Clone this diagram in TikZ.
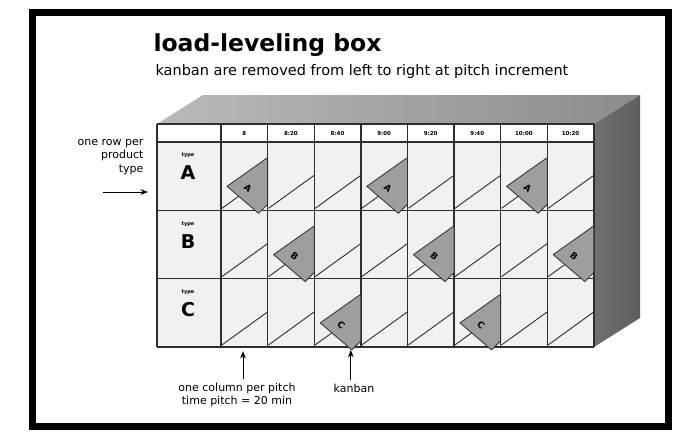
\documentclass[tikz,border=0pt]{standalone}
\usepackage{fontspec}
\setmainfont{DejaVu Sans}
\usetikzlibrary{arrows.meta,calc,positioning}
\definecolor{cardgray}{HTML}{9E9E9E}
\definecolor{cellgray}{HTML}{F1F1F1}
\definecolor{topgray}{HTML}{BABABA}
\definecolor{topdark}{HTML}{8C8C8C}
\definecolor{sidegray}{HTML}{707070}
\definecolor{sidedark}{HTML}{5E5E5E}
\definecolor{gridline}{HTML}{2E2E2E}

\tikzset{
  gridrule/.style={gridline,line width=1.4pt},
  slotline/.style={gridline,line width=0.9pt},
  kanban/.style={fill=cardgray,draw=gridline,line width=0.8pt,line join=round},
  cardlabel/.style={font=\bfseries\fontsize{9}{9}\selectfont,rotate=-40},
  timelabel/.style={font=\bfseries\fontsize{5.5}{6}\selectfont},
  typelabel/.style={font=\bfseries\fontsize{5}{5}\selectfont},
  rowletter/.style={font=\bfseries\fontsize{19}{19}\selectfont},
  note/.style={font=\fontsize{11}{13.5}\selectfont},
}

% card standing in slot: column, row, letter
\newcommand{\putkanban}[3]{%
  \pgfmathsetmacro{\xl}{221+46.6*#1}
  \pgfmathsetmacro{\xr}{\xl+46.6}
  \pgfmathsetmacro{\yb}{142+68.3*(#2+1)}
  \draw[kanban] (\xl+6,\yb-24) -- (\xr-1,\yb-52) -- (\xr,\yb-52) -- (\xr,\yb-6)
    -- (\xr-9,\yb+3) -- cycle;
  \node[cardlabel] (card-#1-#2) at (\xl+27,\yb-22) {#3};
  \coordinate (kb-#1-#2) at (\xr-10,\yb+3);
}

\begin{document}
\begin{tikzpicture}[x=1pt,y=-1pt,>=Stealth]
 \useasboundingbox (0,0) rectangle (673,432);
 \fill[white] (0,0) rectangle (673,432);
 \draw[line width=7pt] (32,12) rectangle (668,426);

 % heading
 \node[anchor=west,font=\bfseries\fontsize{23.5}{24}\selectfont] (title) at (150,45) {load-leveling box};
 \node[anchor=west,font=\fontsize{14.5}{15}\selectfont] (subtitle) at (152,71)
   {kanban are removed from left to right at pitch increment};

 % box body
 \shade[left color=topgray,right color=topdark] (157,124) -- (594,124) -- (640,95) -- (203,95) -- cycle;
 \shade[left color=sidegray,right color=sidedark] (594,124) -- (640,95) -- (640,318) -- (594,347) -- cycle;
 \fill[cellgray] (157,142) rectangle (594,347);
 \fill[white] (157,124) rectangle (594,142);

 % slots
 \foreach \c in {0,...,7}
  \foreach \r in {0,1,2}{
   \pgfmathsetmacro{\xl}{221+46.6*\c}
   \pgfmathsetmacro{\yb}{142+68.3*(\r+1)}
   \draw[slotline] (\xl+1,\yb-2) -- (\xl+46.6,\yb-35);
  }

 % grid
 \foreach \c in {0,...,8}
  \draw[gridrule] (221+46.6*\c,124) -- (221+46.6*\c,347);
 \draw[gridrule] (157,124) -- (157,347);
 \foreach \y in {124,142,210.3,278.6,347}
  \draw[gridrule] (157,\y) -- (594,\y);

 % times
 \foreach \t [count=\i from 0] in {8,8:20,8:40,9:00,9:20,9:40,10:00,10:20}
  \node[timelabel] (t\i) at (244.3+46.6*\i,133) {\t};

 % product types
 \foreach \p [count=\i from 0] in {A,B,C}{
  \node[rowletter] (type\p) at (188,173+68.3*\i) {\p};
  \node[typelabel,above=1pt of type\p] (tag\p) {type};
 }

 % kanban cards
 \putkanban{0}{0}{A}
 \putkanban{3}{0}{A}
 \putkanban{6}{0}{A}
 \putkanban{1}{1}{B}
 \putkanban{4}{1}{B}
 \putkanban{7}{1}{B}
 \putkanban{2}{2}{C}
 \putkanban{5}{2}{C}

 % notes
 \node[note,align=right,anchor=east] (rownote) at (147,157) {one row per\\product\\type};
 \coordinate (rowtail) at (103,192);
 \coordinate (rowhead) at (148,192);
 \draw[->,line width=1pt] (rowtail) -- (rowhead);

 \node[note,align=center] (colnote) at (237,395) {one column per pitch\\time pitch = 20 min};
 \coordinate (colhead) at (243,351);
 \draw[->,line width=1pt] (colhead |- colnote.north) -- (colhead);

 \node[note] (kbnote) at (354,388) {kanban};
 \draw[->,line width=1pt] (kb-2-2 |- kbnote.north) -- (kb-2-2);
\end{tikzpicture}
\end{document}
